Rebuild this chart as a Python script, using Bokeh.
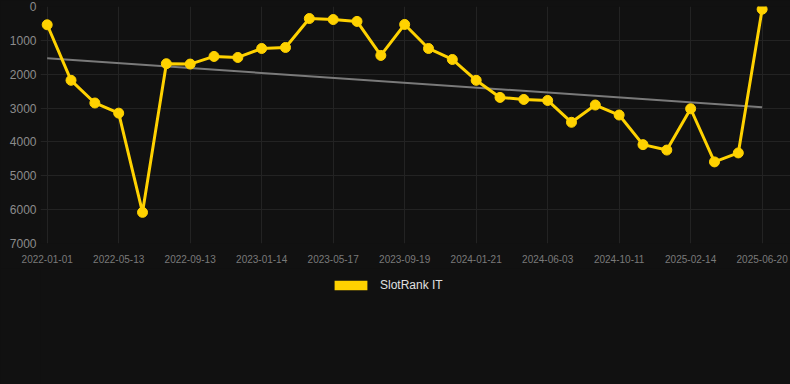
import numpy as np
from bokeh.plotting import figure
from bokeh.layouts import column
from bokeh.models import Legend, LegendItem, FixedTicker, Range1d, ColumnDataSource
from bokeh.embed import file_html
from bokeh.resources import INLINE

# ---- data ----
tick_labels = ["2022-01-01", "2022-05-13", "2022-09-13", "2023-01-14", "2023-05-17",
               "2023-09-19", "2024-01-21", "2024-06-03", "2024-10-11", "2025-02-14",
               "2025-06-20"]
rank = [540, 2180, 2850, 3150, 6080, 1690, 1700, 1475, 1505, 1240, 1210, 355, 385,
        440, 1445, 530, 1240, 1565, 2180, 2685, 2745, 2775, 3420, 2910, 3205, 4080,
        4240, 3020, 4590, 4325, 80]
series_name = "SlotRank IT"
y_ticks = [0, 1000, 2000, 3000, 4000, 5000, 6000, 7000]

idx = list(range(len(rank)))
label_step = 3
tick_pos = idx[::label_step]

YELLOW = "#FFD200"
BG = "#111111"
GRID = "#232323"
FONT = "Liberation Sans"

p = figure(width=790, height=268, output_backend="svg", toolbar_location=None,
           x_range=Range1d(-0.281, 31.19), y_range=Range1d(start=7000, end=0),
           min_border_left=40, min_border_right=0, min_border_top=6,
           min_border_bottom=25,
           background_fill_color=BG, border_fill_color=BG, outline_line_color=None)

# trend line (least squares fit of the series)
slope, intercept = np.polyfit(idx, rank, 1)
tx = [idx[0], idx[-1]]
ty = [intercept + slope * x for x in tx]
p.line(tx, ty, line_color="#7a7a7a", line_width=2)

src = ColumnDataSource(dict(x=idx, y=rank))
p.line("x", "y", source=src, line_color=YELLOW, line_width=3)
p.scatter("x", "y", source=src, size=10, fill_color=YELLOW, line_color=YELLOW)

# axes
xa = p.xaxis[0]
xa.ticker = FixedTicker(ticks=tick_pos)
xa.major_label_overrides = {i: tick_labels[k] for k, i in enumerate(tick_pos)}
xa.axis_line_color = None
xa.major_tick_line_color = None
xa.minor_tick_line_color = None
xa.major_tick_out = 0
xa.major_tick_in = 0
xa.major_label_standoff = 11
xa.major_label_text_font = FONT
xa.major_label_text_font_size = "10px"
xa.major_label_text_color = "#7a7a7a"

ya = p.yaxis[0]
ya.ticker = FixedTicker(ticks=y_ticks)
ya.axis_line_color = None
ya.major_tick_line_color = None
ya.minor_tick_line_color = None
ya.major_tick_out = 0
ya.major_tick_in = 0
ya.major_label_standoff = 4
ya.major_label_text_font = FONT
ya.major_label_text_font_size = "12px"
ya.major_label_text_color = "#8c8c8c"

p.xgrid[0].ticker = FixedTicker(ticks=tick_pos)
p.xgrid[0].grid_line_color = GRID
p.ygrid[0].ticker = FixedTicker(ticks=y_ticks)
p.ygrid[0].grid_line_color = GRID

# ---- legend strip below the chart ----
lp = figure(width=790, height=116, output_backend="svg", toolbar_location=None,
            x_range=Range1d(0, 1), y_range=Range1d(0, 1),
            min_border=0, background_fill_color=BG, border_fill_color=BG,
            outline_line_color=None)
lp.axis.visible = False
lp.grid.visible = False
# zero-area box, only used to draw the legend swatch
box = lp.quad(top=[0], bottom=[0], left=[0], right=[0], fill_color=YELLOW, line_color=None)

legend = Legend(items=[LegendItem(label=series_name, renderers=[box])],
                location=(290, 92), orientation="horizontal",
                glyph_width=41, glyph_height=12, label_standoff=9,
                margin=0, padding=0,
                background_fill_alpha=0, border_line_alpha=0,
                label_text_font=FONT, label_text_font_size="12px",
                label_text_color="#e0e0e0")
lp.add_layout(legend, "center")

layout = column(p, lp, spacing=0)

html = file_html(layout, INLINE)
html = html.replace("</head>", "<style>html,body{background:#111111;}</style></head>", 1)
open("out.html", "w").write(html)
